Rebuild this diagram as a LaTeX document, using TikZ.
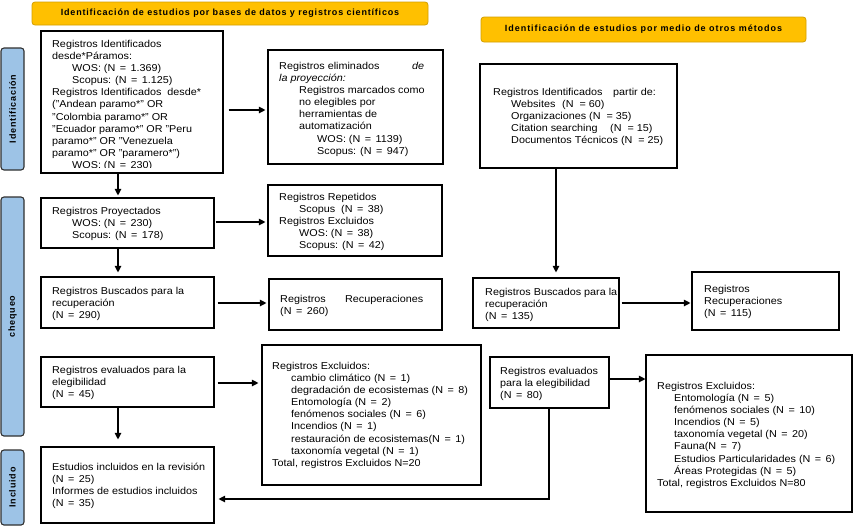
\documentclass[tikz,border=0pt]{standalone}
\usepackage{fontspec}
\setmainfont{Liberation Sans}[FakeStretch=1.08]
\newfontfamily\bannerfont{Liberation Sans}[LetterSpace=9]
\newfontfamily\bannerfontb{Liberation Sans}[LetterSpace=10.5]
\usetikzlibrary{arrows.meta,calc}
\definecolor{bannerfill}{HTML}{FFC000}
\definecolor{bannerline}{HTML}{D29E00}
\definecolor{sidefill}{HTML}{9DC3E6}
\definecolor{sideline}{HTML}{303030}
\newcommand\pbox[6][]{\node[box,#1,minimum width={#4-#2},minimum height={#5-#3}] (#6) at ({(#2+#4)/2},{(#3+#5)/2}) {};}
\newcommand\Ne{(N\hspace{4.5pt}=\hspace{4.5pt}}
\begin{document}
\begin{tikzpicture}[x=1pt,y=-1pt,
  box/.style={draw=black,line width=1.1pt,inner sep=0pt,fill=white},
  thickbox/.style={line width=2.8pt},
  txt/.style={font=\fontsize{10}{12.1}\selectfont,align=left,inner sep=0pt,anchor=north west},
  banner/.style={draw=bannerline,fill=bannerfill,rounded corners=3pt,line width=0.8pt,inner sep=0pt},
  side/.style={draw=sideline,fill=sidefill,rounded corners=3pt,line width=1.1pt,inner sep=0pt},
  sidetxt/.style={rotate=90,font=\bannerfont\fontsize{9}{10}\selectfont\bfseries,inner sep=0pt},
  arr/.style={line width=1.1pt,-{Triangle[length=6.5pt,width=6.5pt]}},
  ln/.style={line width=1.1pt}]
\useasboundingbox (0,0) rectangle (854,528);
% banners
\node[banner,minimum width=396pt,minimum height=23pt,font=\bannerfont\fontsize{9}{10}\selectfont\bfseries] (b1) at (230,13.5) {Identificación de estudios por bases de datos y registros científicos};
\node[banner,minimum width=325pt,minimum height=25pt,font=\bannerfontb\fontsize{9}{10}\selectfont\bfseries] (b2) at (643.5,29.5) {Identificación de estudios por medio de otros métodos};
% side labels
\node[side,minimum width=23pt,minimum height=122pt] (s1) at (12.5,109) {};
\node[sidetxt] (s1t) at (s1.center) {Identificación};
\node[side,minimum width=23pt,minimum height=239pt] (s2) at (12.5,316.5) {};
\node[sidetxt] (s2t) at (s2.center) {chequeo};
\node[side,minimum width=23pt,minimum height=75pt] (s3) at (12.5,487.5) {};
\node[sidetxt] (s3t) at (s3.center) {Incluido};
% boxes
\pbox{41}{31}{223}{173}{A}
\pbox{268}{50}{443}{164}{B}
\pbox{41}{198}{214}{248}{C}
\pbox{268}{185}{442}{256}{D}
\pbox{41}{277}{214}{328}{E}
\pbox{269}{279}{442}{330}{F}
\pbox[thickbox]{480}{64}{677}{168}{G}
\pbox{473}{278}{619}{328}{H}
\pbox{692}{272}{839}{330}{I}
\pbox{41}{357}{214}{407}{J}
\pbox{262}{345}{481}{485}{K}
\pbox{41}{447}{214}{523}{L}
\pbox{490}{357}{609}{408}{M}
\pbox{646}{355}{852}{512}{N}
% texts
\begin{scope}
\clip (41,31) rectangle (223,167);
\node[txt] (At) at (52,40) {Registros Identificados\\
desde*Páramos:\\
\hspace*{20pt}WOS: \Ne 1.369)\\
\hspace*{20pt}Scopus: \Ne 1.125)\\
Registros Identificados\ \ desde*\\
("Andean paramo*" OR\\
"Colombia paramo*" OR\\
"Ecuador paramo*" OR "Peru\\
paramo*" OR "Venezuela\\
paramo*" OR "paramero*")\\
\hspace*{20pt}WOS: \Ne 230)};
\end{scope}
\node[txt] (Bt) at (279,62) {\makebox[133pt][l]{Registros eliminados}\textit{de}\\
\textit{la proyección:}\\
\hspace*{20pt}Registros marcados como\\
\hspace*{20pt}no elegibles por\\
\hspace*{20pt}herramientas de\\
\hspace*{20pt}automatización\\
\hspace*{38pt}WOS: \Ne 1139)\\
\hspace*{38pt}Scopus: \Ne 947)};
\node[txt] (Ct) at (52,207) {Registros Proyectados\\
\hspace*{20pt}WOS: \Ne 230)\\
\hspace*{20pt}Scopus: \Ne 178)};
\begin{scope}
\clip (268,185) rectangle (442,250);
\node[txt] (Dt) at (279,193) {Registros Repetidos\\
\hspace*{20pt}Scopus\ \ \Ne 38)\\
Registros Excluidos\\
\hspace*{20pt}WOS: \Ne 38)\\
\hspace*{20pt}Scopus: \Ne 42)};
\end{scope}
\node[txt] (Et) at (52,287) {Registros Buscados para la\\ recuperación\\ \Ne 290)};
\node[txt] (Ft) at (280,295) {\makebox[65pt][l]{Registros}Recuperaciones\\ \Ne 260)};
\node[txt] (Gt) at (493,88) {\makebox[120pt][l]{Registros Identificados}partir de:\\
\hspace*{18pt}\makebox[51pt][l]{Websites}(N\ \ = 60)\\
\hspace*{18pt}Organizaciones (N\ \ = 35)\\
\hspace*{18pt}\makebox[99pt][l]{Citation searching}(N\ \ = 15)\\
\hspace*{18pt}Documentos Técnicos (N\ \ = 25)};
\node[txt] (Ht) at (485,288) {Registros Buscados para la\\ recuperación\\ \Ne 135)};
\node[txt] (It) at (704,285) {Registros\\ Recuperaciones\\ \Ne 115)};
\node[txt] (Jt) at (52,366) {Registros evaluados para la\\ elegibilidad\\ \Ne 45)};
\node[txt] (Kt) at (272,362) {Registros Excluidos:\\
\hspace*{19pt}cambio climático \Ne 1)\\
\hspace*{19pt}degradación de ecosistemas \Ne 8)\\
\hspace*{19pt}Entomología \Ne 2)\\
\hspace*{19pt}fenómenos sociales \Ne 6)\\
\hspace*{19pt}Incendios \Ne 1)\\
\hspace*{19pt}restauración de ecosistemas\Ne 1)\\
\hspace*{19pt}taxonomía vegetal \Ne 1)\\
Total, registros Excluidos N=20};
\node[txt] (Lt) at (52,463) {Estudios incluidos en la revisión\\ \Ne 25)\\ Informes de estudios incluidos\\ \Ne 35)};
\node[txt] (Mt) at (500,367) {Registros evaluados\\ para la elegibilidad\\ \Ne 80)};
\node[txt] (Nt) at (657,382) {Registros Excluidos:\\
\hspace*{17pt}Entomología \Ne 5)\\
\hspace*{17pt}fenómenos sociales \Ne 10)\\
\hspace*{17pt}Incendios \Ne 5)\\
\hspace*{17pt}taxonomía vegetal \Ne 20)\\
\hspace*{17pt}Fauna\Ne 7)\\
\hspace*{17pt}Estudios Particularidades \Ne 6)\\
\hspace*{17pt}Áreas Protegidas \Ne 5)\\
Total, registros Excluidos N=80};
% connectors
\draw[arr] (A.south -| 118,0) -- ([yshift=2pt]C.north -| 118,0);
\draw[arr] ([xshift=5pt]A.east |- 0,110) -- ([xshift=-2pt]B.west |- 0,110);
\draw[arr] ([xshift=1pt]C.east |- 0,222) -- ([xshift=-2pt]D.west |- 0,222);
\draw[arr] (C.south -| 118,0) -- ([yshift=4pt]E.north -| 118,0);
\draw[arr] ([xshift=3pt]E.east |- 0,303) -- ([xshift=-2pt]F.west |- 0,303);
\draw[arr] (G.south -| 556,0) -- ([yshift=5pt]H.north -| 556,0);
\draw[arr] ([xshift=2pt]H.east |- 0,303) -- ([xshift=-1pt]I.west |- 0,303);
\draw[arr] ([xshift=3pt]J.east |- 0,383) -- ([xshift=-3pt]K.west |- 0,383);
\draw[arr] (J.south -| 118,0) -- ([yshift=7pt]L.north -| 118,0);
\draw[arr] (M.east |- 0,379) -- (N.west |- 0,379);
\draw[arr] (M.south -| 549,0) -- (549,499) -- ([xshift=4pt]L.east |- 0,499);
\end{tikzpicture}
\end{document}
